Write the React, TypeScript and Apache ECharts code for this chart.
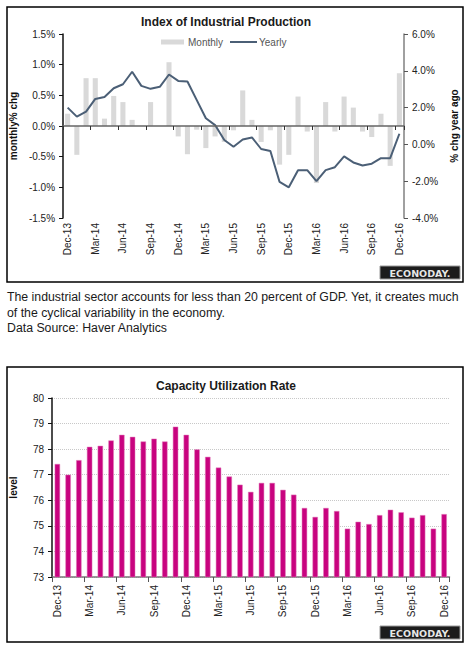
import React, { useEffect, useRef } from "react";
import * as echarts from "echarts";

const months = [
  "Dec-13", "Jan-14", "Feb-14", "Mar-14", "Apr-14", "May-14", "Jun-14", "Jul-14", "Aug-14", "Sep-14", "Oct-14", "Nov-14",
  "Dec-14", "Jan-15", "Feb-15", "Mar-15", "Apr-15", "May-15", "Jun-15", "Jul-15", "Aug-15", "Sep-15", "Oct-15", "Nov-15",
  "Dec-15", "Jan-16", "Feb-16", "Mar-16", "Apr-16", "May-16", "Jun-16", "Jul-16", "Aug-16", "Sep-16", "Oct-16", "Nov-16",
  "Dec-16",
];

const monthly = [
  0.2, -0.47, 0.78, 0.78, 0.12, 0.49, 0.39, 0.1, 0.0, 0.39, 0.0, 1.04,
  -0.17, -0.46, -0.06, -0.36, -0.17, -0.26, -0.07, 0.58, 0.1, -0.26, -0.07, -0.63,
  -0.47, 0.48, -0.09, -0.93, 0.39, -0.09, 0.48, 0.3, -0.09, -0.18, 0.2, -0.65,
  0.86,
];

const yearly = [
  2.0, 1.51, 1.78, 2.47, 2.58, 3.05, 3.27, 3.95, 3.18, 3.02, 3.13, 3.8,
  3.45, 3.42, 2.42, 1.42, 1.05, 0.24, -0.13, 0.27, 0.38, -0.25, -0.36, -2.04,
  -2.33, -1.4, -1.4, -2.0, -1.4, -1.24, -0.65, -0.98, -1.15, -1.05, -0.75, -0.75,
  0.58,
];

const capacity = [
  77.42, 77.0, 77.57, 78.09, 78.13, 78.34, 78.56, 78.48, 78.3, 78.41, 78.3, 78.88,
  78.56, 77.99, 77.7, 77.28, 76.93, 76.61, 76.33, 76.68, 76.68, 76.41, 76.22, 75.7,
  75.35, 75.7, 75.58, 74.89, 75.16, 75.07, 75.42, 75.63, 75.53, 75.32, 75.42, 74.89,
  75.46,
];

const noteLines = [
  "The industrial sector accounts for less than 20 percent of GDP. Yet, it creates much",
  "of the cyclical variability in the economy.",
  "Data Source: Haver Analytics",
];

const FONT = "'Liberation Sans', Arial, sans-serif";
const BAR_GREY = "#d9d9d9";
const LINE_COLOR = "#4b5f76";

function logo(x: number, y: number) {
  return {
    type: "group",
    x,
    y,
    children: [
      { type: "rect", shape: { x: 0, y: 0, width: 80, height: 13 }, style: { fill: "#1c1c1c", stroke: "#9a9a9a", lineWidth: 1 } },
      {
        type: "text",
        x: 40,
        y: 7,
        style: { text: "ECONODAY.", fill: "#e6e6e6", font: "bold 9.5px 'DejaVu Sans', sans-serif", textAlign: "center", textVerticalAlign: "middle" },
      },
    ],
  };
}

export default function App() {
  const ref = useRef<HTMLDivElement>(null);
  useEffect(() => {
    if (!ref.current) return;
    const chart = echarts.init(ref.current, undefined, { renderer: "svg" });
    const axisLabelStyle = { color: "#222", fontSize: 10, fontFamily: FONT };
    const option: any = {
      animation: false,
      backgroundColor: "#fff",
      textStyle: { fontFamily: FONT },
      grid: [
        { left: 62, right: 66, top: 34, bottom: 431 },
        { left: 52, right: 20.5, top: 398, bottom: 72 },
      ],
      xAxis: [
        {
          type: "category",
          gridIndex: 0,
          data: months,
          position: "bottom",
          axisLine: { show: false, onZero: false },
          axisTick: { show: false },
          axisLabel: { ...axisLabelStyle, rotate: 90, interval: 2, margin: 5 },
        },
        {
          type: "category",
          gridIndex: 0,
          data: months,
          position: "bottom",
          axisLine: { show: true, onZero: true, onZeroAxisIndex: 0, lineStyle: { color: "#666", width: 1.5 } },
          axisTick: { show: true, interval: 2, length: 4, lineStyle: { color: "#333", width: 1 } },
          axisLabel: { show: false },
          z: 5,
        },
        {
          type: "category",
          gridIndex: 1,
          data: months,
          position: "bottom",
          axisLine: { show: true, onZero: false, lineStyle: { color: "#777", width: 1.5 } },
          axisTick: { show: true, interval: 2, length: 5, lineStyle: { color: "#555" } },
          axisLabel: { ...axisLabelStyle, rotate: 90, interval: 2, margin: 8 },
        },
      ],
      yAxis: [
        {
          type: "value",
          gridIndex: 0,
          position: "left",
          min: -1.5,
          max: 1.5,
          interval: 0.5,
          splitLine: { show: false },
          axisLine: { show: true, lineStyle: { color: "#111", width: 1.5 } },
          axisTick: { show: true, length: 4, lineStyle: { color: "#111" } },
          axisLabel: { ...axisLabelStyle, margin: 8, formatter: (v: number) => v.toFixed(1) + "%" },
          name: "monthly% chg",
          nameLocation: "middle",
          nameGap: 42,
          nameRotate: 90,
          nameTextStyle: { color: "#111", fontSize: 10, fontWeight: "bold", fontFamily: FONT },
        },
        {
          type: "value",
          gridIndex: 0,
          position: "right",
          min: -4,
          max: 6,
          interval: 2,
          splitLine: { show: false },
          axisLine: { show: true, lineStyle: { color: "#808080", width: 1.5 } },
          axisTick: { show: true, length: 4, lineStyle: { color: "#555" } },
          axisLabel: { ...axisLabelStyle, margin: 8, formatter: (v: number) => v.toFixed(1) + "%" },
          name: "% chg year ago",
          nameLocation: "middle",
          nameGap: 42,
          nameRotate: 90,
          nameTextStyle: { color: "#111", fontSize: 10, fontWeight: "bold", fontFamily: FONT },
        },
        {
          type: "value",
          gridIndex: 1,
          position: "left",
          min: 73,
          max: 80,
          interval: 1,
          splitLine: { show: true, lineStyle: { color: "#c8c8c8", type: "dotted", width: 1 } },
          axisLine: { show: true, lineStyle: { color: "#111", width: 1.5 } },
          axisTick: { show: true, length: 4, lineStyle: { color: "#111" } },
          axisLabel: { ...axisLabelStyle, margin: 8 },
          name: "level",
          nameLocation: "middle",
          nameGap: 34,
          nameRotate: 90,
          nameTextStyle: { color: "#111", fontSize: 10, fontWeight: "bold", fontFamily: FONT },
        },
      ],
      series: [
        {
          name: "Monthly",
          type: "bar",
          xAxisIndex: 0,
          yAxisIndex: 0,
          data: monthly,
          barWidth: "55%",
          itemStyle: { color: BAR_GREY },
          z: 1,
        },
        {
          name: "Yearly",
          type: "line",
          xAxisIndex: 0,
          yAxisIndex: 1,
          data: yearly,
          symbol: "none",
          lineStyle: { color: LINE_COLOR, width: 2 },
          itemStyle: { color: LINE_COLOR },
          z: 3,
        },
        {
          name: "Capacity",
          type: "bar",
          xAxisIndex: 2,
          yAxisIndex: 2,
          data: capacity,
          barWidth: "50%",
          itemStyle: { color: "#c8037f", borderColor: "#e07ab8", borderWidth: 0.5 },
        },
      ],
      graphic: [
        { type: "rect", shape: { x: 7, y: 7, width: 456, height: 275 }, style: { fill: "none", stroke: "#000", lineWidth: 1.5 }, z: 10 },
        { type: "rect", shape: { x: 7, y: 367, width: 456, height: 275 }, style: { fill: "none", stroke: "#000", lineWidth: 1.5 }, z: 10 },
        {
          type: "text",
          x: 226,
          y: 22,
          style: { text: "Index of Industrial Production", font: `bold 12px ${FONT}`, fill: "#1a1a1a", textAlign: "center", textVerticalAlign: "middle" },
        },
        {
          type: "text",
          x: 226,
          y: 386,
          style: { text: "Capacity Utilization Rate", font: `bold 12px ${FONT}`, fill: "#1a1a1a", textAlign: "center", textVerticalAlign: "middle" },
        },
        // legend (chart 1)
        { type: "rect", shape: { x: 161, y: 39.5, width: 23, height: 5 }, style: { fill: BAR_GREY } },
        {
          type: "text",
          x: 188,
          y: 42,
          style: { text: "Monthly", font: `10px ${FONT}`, fill: "#555", textAlign: "left", textVerticalAlign: "middle" },
        },
        { type: "line", shape: { x1: 230, y1: 42, x2: 257, y2: 42 }, style: { stroke: LINE_COLOR, lineWidth: 2 } },
        {
          type: "text",
          x: 259,
          y: 42,
          style: { text: "Yearly", font: `10px ${FONT}`, fill: "#555", textAlign: "left", textVerticalAlign: "middle" },
        },
        ...noteLines.map((t, i) => ({
          type: "text",
          x: 7,
          y: 297 + i * 15.5,
          style: { text: t, font: `12.3px ${FONT}`, fill: "#1a1a1a", textAlign: "left", textVerticalAlign: "middle" },
        })),
        logo(380, 266),
        logo(380, 626),
      ],
    };
    chart.setOption(option);
    return () => chart.dispose();
  }, []);
  return (
    <div style={{ position: "absolute", left: 0, top: 0, width: 470, height: 649, background: "#fff" }}>
      <div ref={ref} style={{ width: 470, height: 649 }} />
    </div>
  );
}
